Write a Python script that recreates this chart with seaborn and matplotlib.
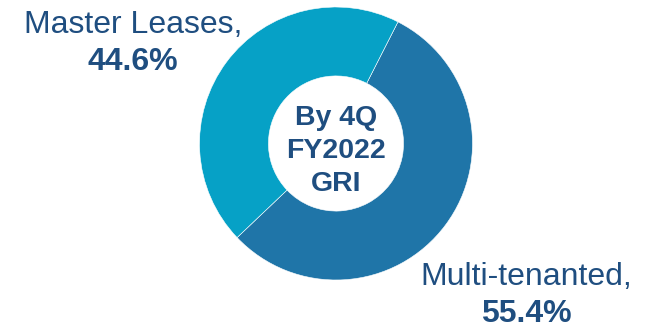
import matplotlib
matplotlib.use("Agg")
import matplotlib.pyplot as plt
import seaborn as sns

# --------------------------
# GRI breakdown by lease type
# --------------------------
categories = ["Multi-tenanted", "Master Leases"]
shares = [55.4, 44.6]
colors = ["#1F75A8", "#06A1C6"]
center_lines = ["By 4Q", "FY2022", "GRI"]

text_color = "#1F4E80"

sns.set_theme(style="white")
plt.rcParams["font.family"] = ["Liberation Sans", "DejaVu Sans"]

fig = plt.figure(figsize=(6.48, 3.28), dpi=100)
ax = fig.add_axes([0, 0, 1, 1])

# --------------------------
# Donut chart
# --------------------------
cx, cy, r = 336, 328 - 143.5, 136.5
ax.pie(shares, colors=colors, startangle=63, counterclock=False,
       center=(cx, cy), radius=r,
       wedgeprops=dict(width=r * 0.505, edgecolor="white", linewidth=0.4))

ax.set_xlim(0, 648)
ax.set_ylim(0, 328)
ax.set_aspect("equal")
ax.axis("off")

# centre label
for i, line in enumerate(center_lines):
    ax.text(cx, 328 - 125 - i * 33, line, ha="center", va="baseline",
            fontsize=20.5, fontweight="bold", color=text_color)

# slice labels
label_pos = {"Master Leases": (133, 33), "Multi-tenanted": (526, 285)}
for name, val in zip(categories, shares):
    x, y = label_pos[name]
    ax.text(x, 328 - y, f"{name},", ha="center", va="baseline",
            fontsize=23, color=text_color)
    ax.text(x, 328 - y - 37, f"{val:.1f}%", ha="center", va="baseline",
            fontsize=23, fontweight="bold", color=text_color)

fig.savefig("out.png", dpi=100)
